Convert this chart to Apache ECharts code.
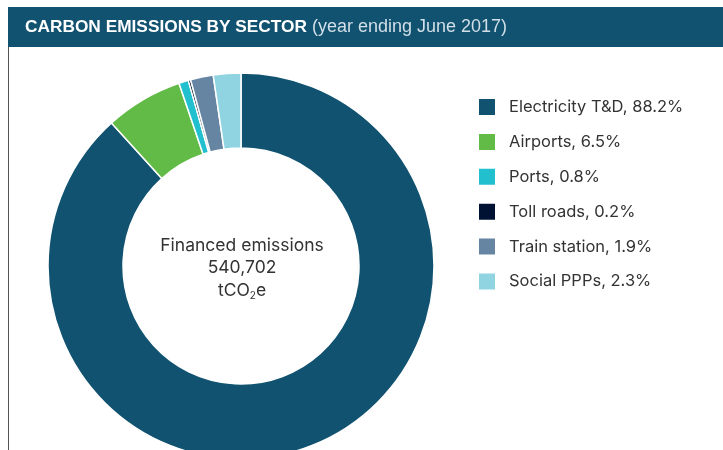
<!DOCTYPE html>
<html><head><meta charset="utf-8">
<script src="https://cdn.jsdelivr.net/npm/echarts@6/dist/echarts.min.js"></script>
<style>html,body{margin:0;padding:0;background:#fff}#c{width:723px;height:450px}</style>
</head><body><div id="c"></div>
<script>
const categories = ['Electricity T&D', 'Airports', 'Ports', 'Toll roads', 'Train station', 'Social PPPs'];
const shares = [88.2, 6.5, 0.8, 0.2, 1.9, 2.3];
const colors = ['#10526f', '#62bb46', '#22bfcf', '#001233', '#6585a3', '#8fd4e0'];
const totalEmissions = '540,702';

const chart = echarts.init(document.getElementById('c'));
const data = categories.map((n, i) => ({ name: n, value: shares[i], itemStyle: { color: colors[i] } }));
chart.setOption({
  animation: false,
  legend: {
    orient: 'vertical', left: 477, top: 97, icon: 'rect', padding: 0,
    itemWidth: 18, itemHeight: 18, itemGap: 14.9,
    textStyle: { fontFamily: 'Inter', fontSize: 16.5, color: '#333', lineHeight: 18, padding: [0, 0, 0, 8] },
    formatter: name => name + ', ' + shares[categories.indexOf(name)] + '%',
    data: categories
  },
  graphic: [
    { type: 'rect', shape: { x: 8, y: 7, width: 715, height: 40 }, style: { fill: '#10526f' } },
    { type: 'line', shape: { x1: 8.5, y1: 47, x2: 8.5, y2: 450 }, style: { stroke: '#555', lineWidth: 1 } },
    { type: 'text', x: 25, y: 27, style: {
        text: '{b|CARBON EMISSIONS BY SECTOR}{n| (year ending June 2017)}',
        verticalAlign: 'middle',
        rich: {
          b: { fontFamily: 'Liberation Sans', fontWeight: 'bold', fontSize: 17.3, fill: '#fff' },
          n: { fontFamily: 'Liberation Sans', fontWeight: 'normal', fontSize: 18, fill: '#d2dfe8' }
        } } },
    { type: 'text', x: 242, y: 268, style: {
        text: 'Financed emissions\n' + totalEmissions + '\n{t|tCO}{s|2}{t|e}',
        align: 'center', verticalAlign: 'middle',
        fontFamily: 'Inter', fontSize: 17.5, fill: '#333', lineHeight: 22.5,
        rich: {
          t: { fontFamily: 'Inter', fontSize: 17.5, fill: '#333', lineHeight: 22.5 },
          s: { fontFamily: 'Inter', fontSize: 10, fill: '#333', lineHeight: 22.5, padding: [10, 0, 0, 0] }
        } } }
  ],
  series: [{
    type: 'pie', center: [241, 266], radius: [118, 193], startAngle: 90, clockwise: true,
    label: { show: false }, labelLine: { show: false }, silent: true,
    itemStyle: { borderColor: '#fff', borderWidth: 1.5 },
    data: data
  }]
});
</script></body></html>
